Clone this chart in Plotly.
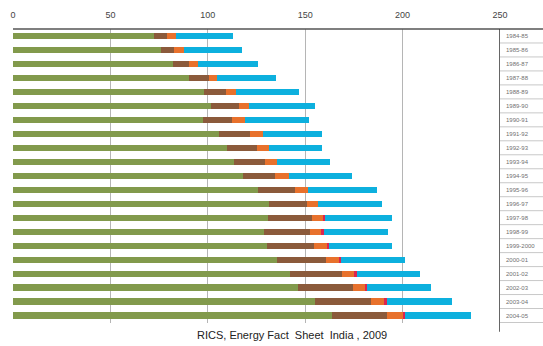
import plotly.graph_objects as go

years = ["1984-85", "1985-86", "1986-87", "1987-88", "1988-89", "1989-90", "1990-91",
         "1991-92", "1992-93", "1993-94", "1994-95", "1995-96", "1996-97", "1997-98",
         "1998-99", "1999-2000", "2000-01", "2001-02", "2002-03", "2003-04", "2004-05"]

green = [72.4, 76.0, 82.2, 90.4, 97.9, 101.4, 97.3, 105.8, 109.9, 113.4, 118.1,
         125.8, 131.3, 130.8, 128.9, 130.4, 135.6, 142.1, 146.4, 155.1, 163.7]
brown = [6.7, 6.9, 8.2, 10.0, 11.3, 14.4, 15.2, 16.1, 15.4, 15.9, 16.2,
         18.9, 19.4, 22.5, 23.5, 24.0, 25.0, 26.7, 28.1, 28.8, 28.4]
orange = [4.5, 4.8, 4.8, 4.1, 5.2, 5.4, 6.5, 6.2, 5.9, 6.0, 7.3,
          6.5, 5.8, 5.9, 6.2, 6.9, 6.7, 6.4, 6.0, 6.7, 7.9]
red = [0, 0, 0, 0, 0, 0, 0, 0, 0, 0, 0,
       0, 0, 0.8, 0.8, 0.8, 1.2, 1.5, 1.2, 1.4, 1.2]
blue = [29.1, 29.9, 30.6, 30.4, 32.2, 33.9, 33.0, 30.6, 27.5, 27.4, 32.4,
        35.4, 33.0, 34.6, 32.9, 32.4, 32.5, 32.2, 33.0, 33.5, 34.0]

x_ticks = [0, 50, 100, 150, 200, 250]
caption = "RICS, Energy Fact  Sheet  India , 2009"

series = [
    ("Series 1", green, "#829a4c"),
    ("Series 2", brown, "#8b5a3b"),
    ("Series 3", orange, "#e8712c"),
    ("Series 4", red, "#dd2450"),
    ("Series 5", blue, "#0db0de"),
]

fig = go.Figure()
for name, vals, col in series:
    fig.add_trace(go.Bar(
        y=years, x=vals, name=name, orientation="h",
        marker=dict(color=col, line=dict(width=0)),
    ))

W, H = 543, 346
ml, mr, mt, mb = 13, 43, 29, 23
pw = W - ml - mr
ph = H - mt - mb

shapes = []
# top border line across plot and label column
shapes.append(dict(type="line", xref="paper", yref="paper",
                   x0=0, x1=(W - ml) / pw, y0=1, y1=1,
                   line=dict(color="#555555", width=1.5)))
# dark vertical line at 250 (left edge of label column)
shapes.append(dict(type="line", xref="x", yref="paper",
                   x0=250, x1=250, y0=-0.03, y1=1,
                   line=dict(color="#333333", width=1.5)))
# separators in label column
n = len(years)
for i in range(n):
    shapes.append(dict(type="line", xref="paper", yref="y",
                       x0=1, x1=(W - ml) / pw, y0=i + 0.5, y1=i + 0.5,
                       line=dict(color="#c8c8c8", width=1)))

fig.update_layout(
    width=W, height=H,
    margin=dict(l=ml, r=mr, t=mt, b=mb, pad=0, autoexpand=False),
    barmode="stack",
    bargap=0.56,
    showlegend=False,
    plot_bgcolor="white",
    paper_bgcolor="white",
    font=dict(family="Liberation Sans, Arial, sans-serif"),
    xaxis=dict(
        side="top", range=[0, 250], tickvals=x_ticks,
        showgrid=True, gridcolor="#b5b5b5", gridwidth=1,
        zeroline=False, showline=False, ticks="",
        tickfont=dict(size=9, color="#444444"),
        ticklabelstandoff=8, automargin=False,
    ),
    yaxis=dict(
        side="right", type="category", autorange="reversed",
        showgrid=False, zeroline=False, showline=False, ticks="",
        tickfont=dict(size=6, color="#707070"),
        ticklabelstandoff=5, automargin=False,
    ),
    shapes=shapes,
    annotations=[dict(
        text=caption, xref="paper", yref="paper",
        x=(291.7 - ml) / pw, y=-(335 - (H - mb)) / ph,
        xanchor="center", yanchor="middle", showarrow=False,
        font=dict(size=11, color="#222222"),
    )],
)

fig.write_html(
    "out.html",
    config={"displayModeBar": False},
    post_script="document.body.style.margin='0';document.body.style.overflow='hidden';",
)
